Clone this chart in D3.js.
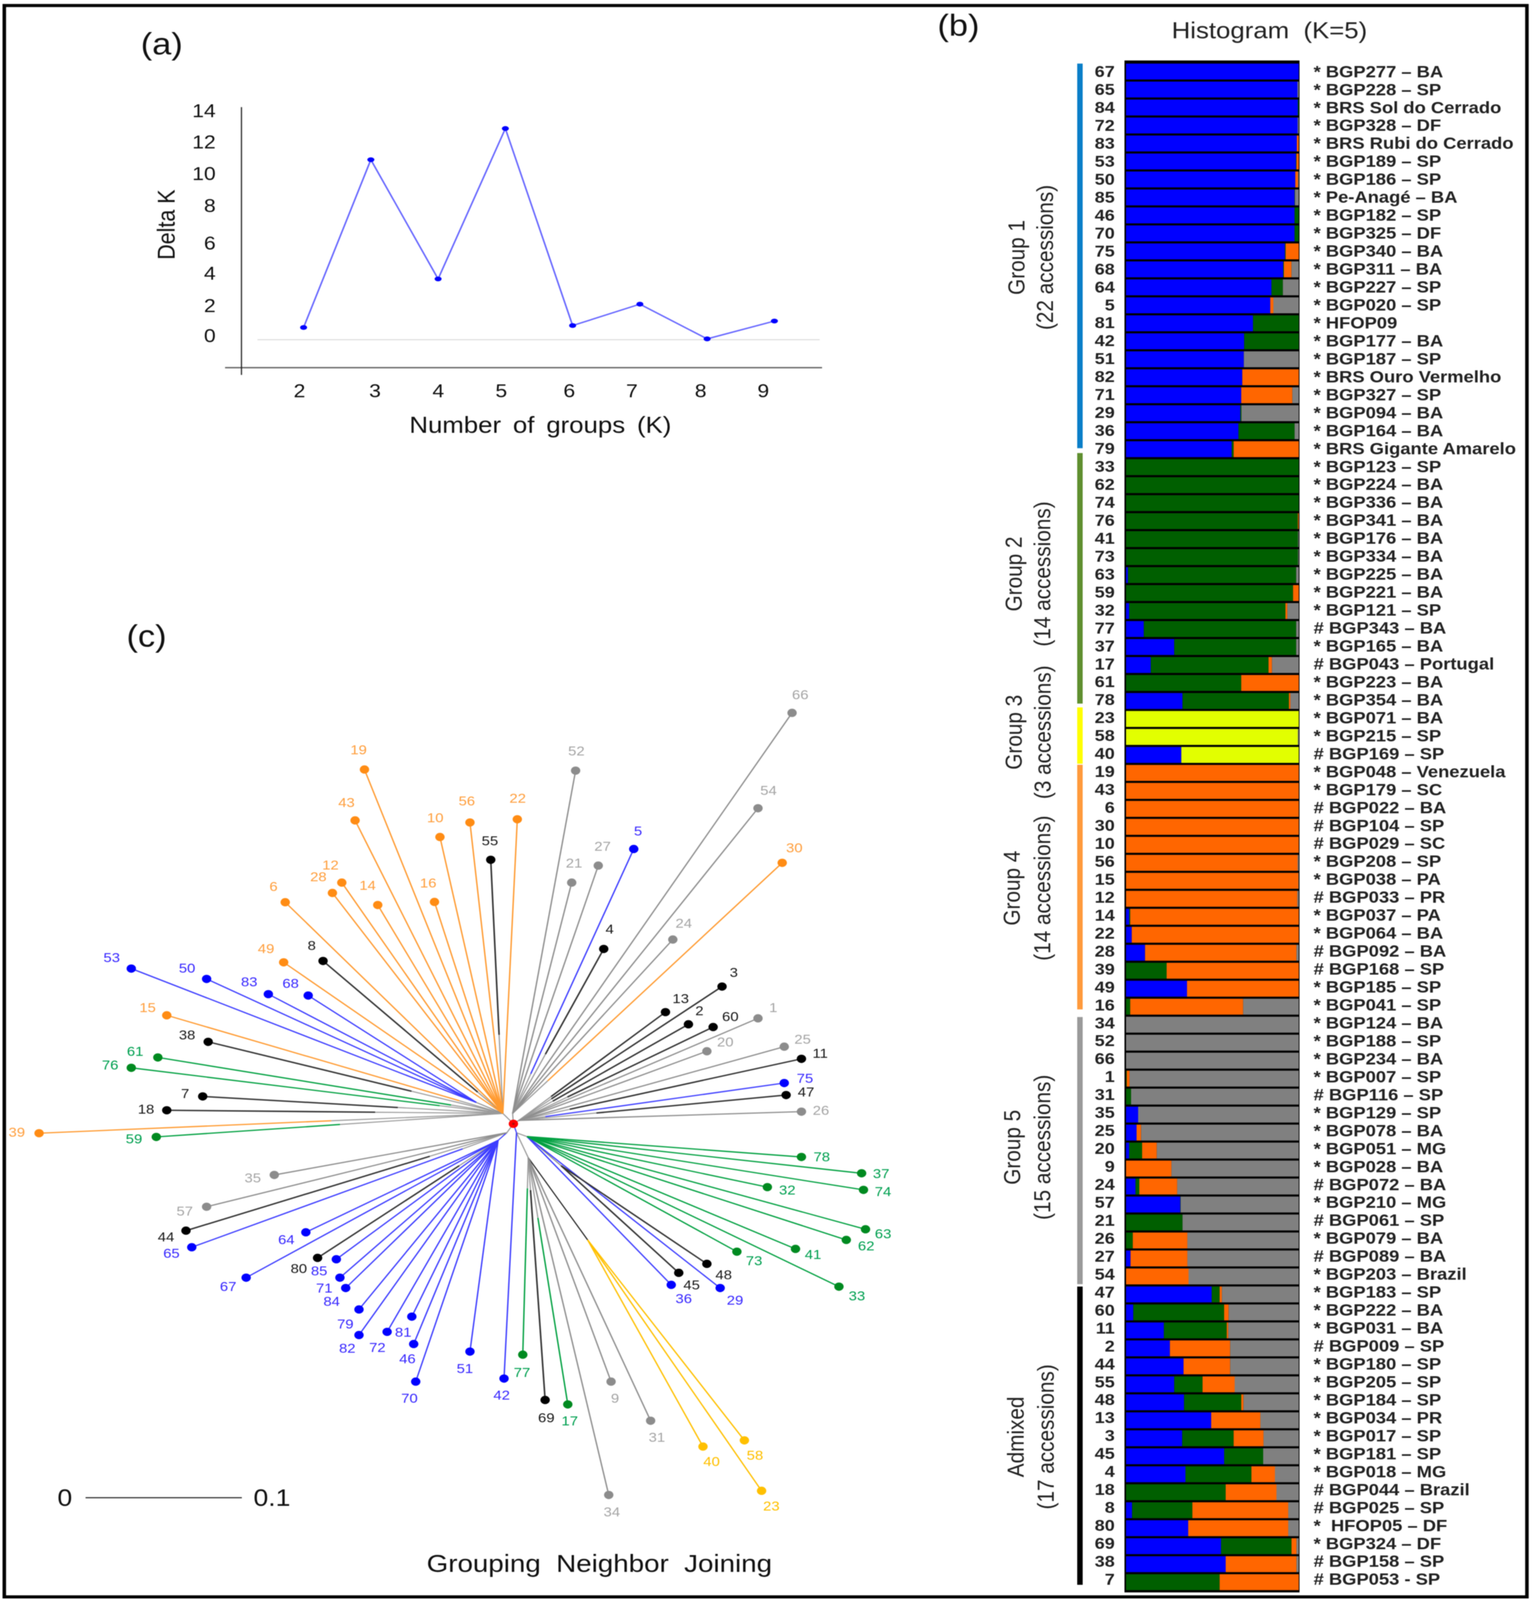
<!DOCTYPE html>
<html><head><meta charset="utf-8">
<style>html,body{margin:0;padding:0;background:#fff;overflow:hidden;width:100%;height:100%}svg{display:block;filter:blur(1.1px)}text{font-family:"Liberation Sans",Arial,sans-serif;white-space:pre}</style>
<script src="https://cdn.jsdelivr.net/npm/d3@7"></script>
</head><body><div id="chart"></div>
<script>
// ---------- panel (a) data ----------
const kValues = [2,3,4,5,6,7,8,9];
const deltaK = [0.61,11.05,3.63,12.99,0.73,2.06,-0.1,1.01];
const deltaKTicks = [0,2,4,6,8,10,12,14];

// ---------- panel (b) data ----------
const groupNames = ["Group 1","Group 2","Group 3","Group 4","Group 5","Admixed"];
const groupNotes = ["(22 accessions)","(14 accessions)","(3 accessions)","(14 accessions)","(15 accessions)","(17 accessions)"];
const groupSizes = [22,14,3,14,15,17];
const rowIds = [67,65,84,72,83,53,50,85,46,70,75,68,64,5,81,42,51,82,71,29,36,79,
  33,62,74,76,41,73,63,59,32,77,37,17,61,78,
  23,58,40,
  19,43,6,30,10,56,15,12,14,22,28,39,49,16,
  34,52,66,1,31,35,25,20,9,24,57,21,26,27,54,
  47,60,11,2,44,55,48,13,3,45,4,18,8,80,69,38,7];
const rowNames = ["* BGP277 – BA","* BGP228 – SP","* BRS Sol do Cerrado","* BGP328 – DF","* BRS Rubi do Cerrado","* BGP189 – SP","* BGP186 – SP","* Pe-Anagé – BA","* BGP182 – SP","* BGP325 – DF","* BGP340 – BA","* BGP311 – BA","* BGP227 – SP","* BGP020 – SP","* HFOP09","* BGP177 – BA","* BGP187 – SP","* BRS Ouro Vermelho","* BGP327 – SP","* BGP094 – BA","* BGP164 – BA","* BRS Gigante Amarelo",
  "* BGP123 – SP","* BGP224 – BA","* BGP336 – BA","* BGP341 – BA","* BGP176 – BA","* BGP334 – BA","* BGP225 – BA","* BGP221 – BA","* BGP121 – SP","# BGP343 – BA","* BGP165 – BA","# BGP043 – Portugal","* BGP223 – BA","* BGP354 – BA",
  "* BGP071 – BA","* BGP215 – SP","# BGP169 – SP",
  "* BGP048 – Venezuela","* BGP179 – SC","# BGP022 – BA","# BGP104 – SP","# BGP029 – SC","* BGP208 – SP","* BGP038 – PA","# BGP033 – PR","* BGP037 – PA","* BGP064 – BA","# BGP092 – BA","# BGP168 – SP","* BGP185 – SP","* BGP041 – SP",
  "* BGP124 – BA","* BGP188 – SP","* BGP234 – BA","* BGP007 – SP","# BGP116 – SP","* BGP129 – SP","* BGP078 – BA","* BGP051 – MG","* BGP028 – BA","# BGP072 – BA","* BGP210 – MG","# BGP061 – SP","* BGP079 – BA","# BGP089 – BA","* BGP203 – Brazil",
  "* BGP183 – SP","* BGP222 – BA","* BGP031 – BA","# BGP009 – SP","* BGP180 – SP","* BGP205 – SP","* BGP184 – SP","* BGP034 – PR","* BGP017 – SP","* BGP181 – SP","* BGP018 – MG","# BGP044 – Brazil","# BGP025 – SP","*  HFOP05 – DF","* BGP324 – DF","# BGP158 – SP","# BGP053 - SP"];
const blueShare = [100,99.3,99.5,99.4,98.9,98.4,98,97.6,97.6,97.6,92,91,84.2,83.5,73.5,68.4,68.2,67.3,66.7,66.2,65.1,61.2,
  0,0,0,0,0,0,1.1,0,1.8,10.3,27.9,14.3,0,32.7,
  0,0,32,
  0,0,0,0,0,0,0,0,1.8,3.3,11,0,35.3,0,
  0,0,0,0,0,7,6.1,1.8,0,5.5,31.4,0,0,2.6,0,
  49.6,4.2,21.9,25.4,33.3,27.9,33.6,49.3,32.5,56.8,34.4,0,3.5,36,55,57.7,0];
const greenShare = [0,0,0.5,0,0,0.3,0,0.2,2.4,2.4,0.4,0.4,6.6,0,26.5,31.6,0,0,0,0.6,32.5,1.1,
  100,100,100,99.5,99.6,99.6,97.4,96.7,90.5,88.2,70.6,68.2,66.7,61.6,
  0,0,0,
  0,0,0,0,0,0,0,0,0.6,0,0,23.5,0,2.4,
  0,0,0,0.4,2.9,0,0,7.5,0,2.2,0.2,32.7,3.9,0,0,
  4.6,52.6,36.4,0,0,16.4,33.1,0,29.8,22.6,38.2,57.7,34.9,0,40.8,0,54.2];
const yellowShare = [0,0,0,0,0,0,0,0,0,0,0,0,0,0,0,0,0,0,0,0,0,0,
  0,0,0,0,0,0,0,0,0,0,0,0,0,0,
  100,99.5,68,
  0,0,0,0,0,0,0,0,0,0,0,0,0,0,
  0,0,0,0,0,0,0,0,0,0,0,0,0,0,0,
  0,0,0,0,0,0,0,0,0,0,0,0,0,0,0,0,0];
const orangeShare = [0,0,0,0,1.1,1.3,1.6,0,0,0,7.6,4.4,0,1.8,0,0,0,32.7,29.6,0,0,37.7,
  0,0,0,0.5,0,0,0,3.3,1.1,0,0,2,33.3,0.9,
  0,0,0,
  100,100,100,100,100,99.4,99.8,99.2,97.6,96.7,87.7,76.5,64.7,65.4,
  0,0,0,1.6,0,0,2.6,8.5,26.3,21.9,0,0,31.6,32.9,36.2,
  1.3,2.6,0.9,34.9,27,18.6,1.3,28.5,17.3,0,13.6,29.4,55.5,57.9,2.9,41,45.8];
const greyShare = [0,0.7,0,0.6,0,0,0.4,2.2,0,0,0,4.2,9.2,14.7,0,0,31.8,0,3.7,33.2,2.4,0,
  0,0,0,0,0.4,0.4,1.5,0,6.6,1.5,1.5,15.5,0,4.8,
  0,0.5,0,
  0,0,0,0,0,0.6,0.2,0.8,0,0,1.3,0,0,32.2,
  100,100,100,98,97.1,93,91.3,82.2,73.7,70.4,68.4,67.3,64.5,64.5,63.8,
  44.5,40.6,40.8,39.7,39.7,37.1,32,22.2,20.4,20.6,13.8,12.9,6.1,6.1,1.3,1.3,0];

// ---------- panel (c) data: tip offsets from the root, in 0.001 distance units, by accession 1..85 ----------
const tipDx = [156.5,112,133.5,57.8,77,-146,-198.8,-121.8,62.5,-47,184.3,-109.8,97.3,-86.8,-221.8,-50.5,34.8,-221.8,-95.3,123.8,
  37.3,2.5,158.8,102,173.3,184.3,54.3,-115.8,132.3,172,87.8,162.5,208.3,61,-153,101,222.8,-195.3,-303.5,121.3,
  180.5,-6,-101.3,-209.5,105.8,-63.8,174.5,123.8,-147,-196.3,-27.8,39.8,-244.5,156.5,-14.5,-27.8,-196.3,147.8,-228.5,127.8,
  -227.5,213,225.3,-132.8,-205.8,178.3,-171,-131.3,20.3,-62.5,-111,-80.8,143,224,173.3,-244.5,6,184.3,-98.8,-125.3,
  -65,-98.8,-156.8,-107.3,-113.3];
const tipDy = [76.3,72,99.3,126.5,198.8,160.3,19.8,117.8,-186.5,207.5,47,174.5,80.8,158.3,78.5,160.5,-203,9.8,256.3,52.5,
  174.5,220.3,-265.5,133.3,55.8,8.8,186.8,167,-118.8,188.8,-214.8,-45.8,-117.8,-268.5,-37,-116.5,-35.8,59.3,-6.8,-233.5,
  -90.5,-184.3,219.5,-77.3,-107.8,-159.3,20.8,-101.3,116.8,104.8,-164.8,255.5,112.3,228.3,191,218,-60,-229,-9.5,70,
  48,-84,-76.3,-78.5,-89.3,297.3,-111.3,92.8,-199.8,-186.5,-111.3,-150.5,-92.5,-47.8,29.5,40.5,-167,-24,-134.3,-97,
  -139.5,-152.8,93.8,-118.8,-98];
const hubIds = ["R","N","E","F","W","S","A","B","C","D","U","L"];
const hubDx = [0,-6.75,-0.5,3.5,-4.25,2,8.75,30.5,47.5,9.5,-23.8,-9.8];
const hubDy = [0,7.5,7.5,2.5,-6.5,-6.5,-9.25,-30.3,-84,-24.5,15.5,-12];
const hubParent = [null,"R","R","R","R","R","S","A","D","S","N","W"];
const hubMembers = {
  N:[19,43,10,56,12,28,14,16,6,49,15,22,8,38,55,7,18,39,59,61,76],
  E:[52,21,27,5,4,66,54,24,30],
  F:[3,13,2,60,1,20,25,11,75,47,26],
  W:[35,57,44,65], S:[42],
  A:[78,37,32,74,63,62,41,73,33,29,36], B:[48,45], C:[40,58,23], D:[77,69,17,9,31,34],
  U:[53,50,83,68], L:[64,67,85,71,84,79,82,72,81,46,70,80,51]
};
const colouredShare = {80:.785,77:.844,69:.866,17:.756,5:.85,75:.9,65:.86,44:.76,15:.87,39:.63,59:.53,61:.85,76:.83,
  7:.65,18:.62,38:.69,8:.86,55:.69,4:.64,3:.84,13:.78,2:.8,60:.75,11:.82,47:.71,30:.87};
const scaleBarLength = 100;

// ---------- layout ----------
const W = 3921, H = 4630;
const groupColours = ["#0a7ec8","#5f8f2f","#ffff00","#ff9a3c","#9a9a9a","#000000"];
const lineColours = ["#3d3dff","#00a040","#ffc000","#ff9a30","#8f8f8f","#333333"];
const dotColours = ["#0000ff","#008a20","#ffc000","#ff8c14","#8c8c8c","#000000"];
const textColours = ["#3a2aff","#00a050","#ffc000","#ffa040","#a6a6a6","#1a1a1a"];
const shareColours = {blue:"#0000ff",green:"#005f00",yellow:"#e2ff00",orange:"#ff6600",grey:"#808080"};
const groupSpans = [[184,1297],[1311,2036],[2047,2210],[2213,2921],[2943,3716],[3723,4586]];
const groupTitleY = [745,1661,2119,2570,3320,4158];
const groupTitleX1 = [2601,2594,2594,2589,2590,2599];
const groupTitleX2 = [2674,2667,2668,2667,2667,2676];
const yTickNudge = {14:-5,12:-8,10:-9,8:-9,6:6,4:0,2:1,0:-5};
const xTickNudge = {2:-11,3:10,4:0,5:-11,6:-9,7:-21,8:-17,9:-29};
const labelDx = [39,28,30,15,11,-30,-45,-29,10,-12,48,-29,39,-26,-49,-16,5,-53,-15,47,6,1,25,28,47,50,11,-36,38,31,16,51,46,8,-55,32,50,-54,-57,22,45,-6,-22,-51,33,-16,51,43,-45,-50,-13,2,-50,27,-2,-8,-56,27,-57,44,-58,51,45,-50,-52,21,-46,-45,3,-16,-40,-25,44,50,53,-54,-2,52,-35,-48,-22,-30,-49,-36,-44];
const labelDy = [-31,-39,-40,-57,-52,-45,-8,-44,48,-55,-16,-51,-39,-56,-22,-55,48,-3,-57,-26,-56,-61,44,-47,-21,-3,-56,-47,36,-43,48,9,27,49,9,40,1,-20,-2,44,17,48,-51,18,36,43,-9,32,-39,-31,49,-56,-31,-51,-55,-62,13,44,6,-30,-17,18,13,22,18,-52,26,-35,52,48,31,45,27,5,-13,-8,52,0,43,31,45,39,-35,39,34];

// The drawing keeps the reference's 3921×4630 coordinates and always fills the window it is given.
const svg = d3.select("#chart").append("svg").style("width","100vw").style("height","100vh")
  .attr("viewBox",`0 0 ${W} ${H}`).attr("preserveAspectRatio","none");
svg.append("rect").attr("width",W).attr("height",H).attr("fill","#fff");
svg.append("rect").attr("x",11).attr("y",16).attr("width",3897).attr("height",4605).attr("fill","none").attr("stroke","#000").attr("stroke-width",9);

function caption(x,y,txt,size,opts={}){
  const t = svg.append("text").attr("x",x).attr("y",y).attr("text-anchor",opts.anchor||"middle")
    .attr("dominant-baseline","central").attr("font-size",size).attr("fill",opts.fill||"#111").text(txt);
  if(opts.rotate) t.attr("transform",`rotate(-90 ${x} ${y})`);
  if(opts.wordSpacing) t.attr("word-spacing",opts.wordSpacing);
  return t;
}
caption(414,127,"(a)",88);
caption(2453,74,"(b)",88);
caption(375,1841,"(c)",88);

// ---------- panel (a) ----------
const pa = svg.append("g");
const xK = d3.scalePoint().domain(kValues).range([777,1982]);
const yK = d3.scaleLinear().domain([0,14]).range([976,325]);
pa.append("line").attr("x1",659).attr("x2",2098).attr("y1",983).attr("y2",983).attr("stroke","#dedede").attr("stroke-width",3);
pa.append("line").attr("x1",576).attr("x2",2104).attr("y1",1064).attr("y2",1064).attr("stroke","#666").attr("stroke-width",4);
pa.append("line").attr("x1",618).attr("x2",618).attr("y1",310).attr("y2",1085).attr("stroke","#222").attr("stroke-width",3);
const yAxisG = pa.append("g").attr("transform","translate(552,0)")
  .call(d3.axisLeft(yK).tickValues(deltaKTicks).tickSize(0).tickPadding(0));
yAxisG.select(".domain").remove();
yAxisG.selectAll("text").attr("font-size",54).attr("fill","#111").attr("font-family",null)
  .attr("dy",null).attr("dominant-baseline","central").attr("y",d=>yTickNudge[d]);
const xAxisG = pa.append("g").attr("transform","translate(0,1131)")
  .call(d3.axisBottom(xK).tickSize(0).tickPadding(0));
xAxisG.select(".domain").remove();
xAxisG.selectAll("text").attr("font-size",54).attr("fill","#111").attr("font-family",null)
  .attr("dy",null).attr("dominant-baseline","central").attr("y",0).attr("x",d=>xTickNudge[d]);
pa.append("path").datum(kValues.map((k,i)=>[k,deltaK[i]]))
  .attr("fill","none").attr("stroke","#6666ff").attr("stroke-width",4)
  .attr("d",d3.line().x(d=>xK(d[0])).y(d=>yK(d[1])));
pa.selectAll("ellipse").data(kValues).join("ellipse")
  .attr("cx",k=>xK(k)).attr("cy",(k,i)=>yK(deltaK[i])).attr("rx",9).attr("ry",7).attr("fill","#0000ff");
caption(1383,1230,"Number of groups (K)",66,{wordSpacing:12});
caption(425,650,"Delta K",62,{rotate:true});

// ---------- panel (b) ----------
const pb = svg.append("g");
caption(3249,88,"Histogram  (K=5)",66,{fill:"#222"});
pb.append("rect").attr("x",2878).attr("y",175).attr("width",448).attr("height",4433).attr("fill","#000");
const shareKeys = ["blue","green","yellow","orange","grey"];
const rowTable = rowIds.map((id,i)=>({id,blue:blueShare[i],green:greenShare[i],yellow:yellowShare[i],orange:orangeShare[i],grey:greyShare[i]}));
const stacked = d3.stack().keys(shareKeys).offset(d3.stackOffsetExpand)(rowTable);
const xShare = d3.scaleLinear().domain([0,1]).range([2882,3324]);
const yRow = d3.scaleBand().domain(rowIds).range([181,181+85*52.04]).paddingInner(.116).paddingOuter(.058);
const yRowLabel = d3.scalePoint().domain(rowIds).range([207,4570]);
pb.selectAll("g.share").data(stacked).join("g").attr("class","share").attr("fill",s=>shareColours[s.key])
  .selectAll("rect").data(s=>s.filter(d=>d[1]>d[0])).join("rect")
  .attr("x",d=>xShare(d[0])).attr("width",d=>xShare(d[1])-xShare(d[0]))
  .attr("y",d=>yRow(d.data.id)).attr("height",yRow.bandwidth());
pb.selectAll("text.rowid").data(rowIds).join("text").attr("class","rowid")
  .attr("x",2853).attr("y",d=>yRowLabel(d)).attr("text-anchor","end").attr("dominant-baseline","central")
  .attr("font-size",46).attr("font-weight","bold").attr("fill","#222").text(d=>d);
pb.selectAll("text.rowname").data(rowIds).join("text").attr("class","rowname")
  .attr("x",3362).attr("y",d=>yRowLabel(d)).attr("dominant-baseline","central")
  .attr("font-size",47).attr("font-weight","bold").attr("fill","#222").text((d,i)=>rowNames[i]);
pb.selectAll("rect.groupbar").data(groupSpans).join("rect").attr("class","groupbar")
  .attr("x",2757).attr("width",14).attr("y",d=>d[0]).attr("height",d=>d[1]-d[0]).attr("fill",(d,i)=>groupColours[i]);
groupNames.forEach((g,i)=>{
  caption(groupTitleX1[i],groupTitleY[i],g,60,{rotate:true,fill:"#222"});
  caption(groupTitleX2[i],groupTitleY[i],groupNotes[i],60,{rotate:true,fill:"#222"});
});

// ---------- panel (c) ----------
const pc = svg.append("g");
const xTree = d3.scaleLinear().domain([0,100]).range([1314,1714]);
const yTree = d3.scaleLinear().domain([0,100]).range([3252,2852]);
const hubOf = {};
Object.entries(hubMembers).forEach(([h,ids])=>ids.forEach(id=>hubOf[id]=h));
const groupOf = {};
{let r=0; groupSizes.forEach((n,g)=>{for(let k=0;k<n;k++) groupOf[rowIds[r++]]=g;});}
const hubPos = id=>{const i=hubIds.indexOf(id);return [hubDx[i],hubDy[i]];};
const tips = d3.range(1,86).map(id=>{
  const h = hubOf[id]||"R", g = groupOf[id];
  const share = colouredShare[id]!==undefined ? colouredShare[id] : 1;
  const [hx,hy] = hubPos(h), x=tipDx[id-1], y=tipDy[id-1];
  return {id,g,h,share,x,y,hx,hy,mx:x+(hx-x)*share,my:y+(hy-y)*share};
});
pc.selectAll("line.stem").data(tips.filter(t=>t.share<1)).join("line").attr("class","stem")
  .attr("x1",t=>xTree(t.mx)).attr("y1",t=>yTree(t.my)).attr("x2",t=>xTree(t.hx)).attr("y2",t=>yTree(t.hy))
  .attr("stroke","#9a9a9a").attr("stroke-width",3);
const hubStemColour = {N:"#9a9a9a",E:"#9a9a9a",F:"#9a9a9a",W:"#9a9a9a",S:"#3d3dff",C:"#222",L:"#3d3dff",A:"#9a9a9a",B:"#888",U:"#8f8f8f",D:"#9a9a9a"};
hubIds.forEach((h,i)=>{
  if(!hubParent[i]) return;
  const [px,py] = hubPos(hubParent[i]);
  pc.append("line").attr("x1",xTree(hubDx[i])).attr("y1",yTree(hubDy[i])).attr("x2",xTree(px)).attr("y2",yTree(py))
    .attr("stroke",hubStemColour[h]).attr("stroke-width",3);
});
pc.selectAll("line.branch").data(tips).join("line").attr("class","branch")
  .attr("x1",t=>xTree(t.x)).attr("y1",t=>yTree(t.y)).attr("x2",t=>xTree(t.mx)).attr("y2",t=>yTree(t.my))
  .attr("stroke",t=>lineColours[t.g]).attr("stroke-width",t=>t.g===5?4:3.5);
pc.selectAll("circle.tip").data(tips).join("circle").attr("class","tip")
  .attr("cx",t=>xTree(t.x)).attr("cy",t=>yTree(t.y)).attr("r",12).attr("fill",t=>dotColours[t.g]);
pc.selectAll("text.tiplabel").data(tips).join("text").attr("class","tiplabel")
  .attr("x",t=>xTree(t.x)+labelDx[t.id-1]).attr("y",t=>yTree(t.y)+labelDy[t.id-1])
  .attr("text-anchor","middle").attr("dominant-baseline","central").attr("font-size",38)
  .attr("fill",t=>textColours[t.g]).text(t=>t.id);
pc.append("circle").attr("cx",xTree(0)).attr("cy",yTree(0)).attr("r",12).attr("fill","#ff0000");
pc.append("circle").attr("cx",xTree(0)).attr("cy",yTree(0)).attr("r",3).attr("fill","#a01010");
const barLen = xTree(scaleBarLength)-xTree(0);
pc.append("line").attr("x1",219).attr("x2",219+barLen).attr("y1",4334).attr("y2",4334).attr("stroke","#222").attr("stroke-width",3);
caption(166,4334,"0",68);
caption(696,4334,"0.1",68);
caption(1534,4524,"Grouping  Neighbor  Joining",71);
</script></body></html>
